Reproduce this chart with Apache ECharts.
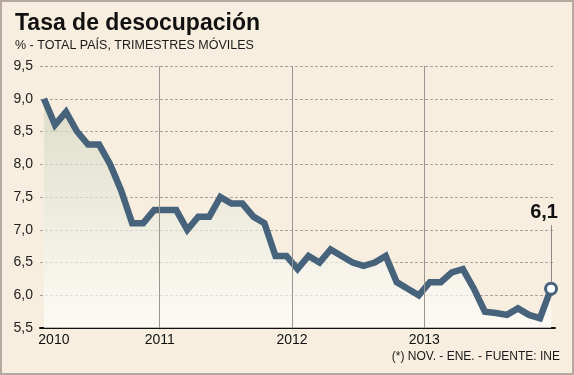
<!DOCTYPE html>
<html>
<head>
<meta charset="utf-8">
<style>
  html, body { margin: 0; padding: 0; }
  body { width: 574px; height: 375px; overflow: hidden; }
  #box { width: 574px; height: 375px; box-sizing: border-box; border: 2px solid #b6a8a1; background: #f7eedf; position: relative; }
  #chart { position: absolute; left: -2px; top: -2px; width: 574px; height: 375px; }
</style>
</head>
<body>
<div id="box"><div id="chart"></div></div>
<script src="https://cdn.jsdelivr.net/npm/echarts@6/dist/echarts.min.js"></script>
<script>
// trimestres móviles, desde ene-mar 2010 hasta nov-ene 2014
var tasa = [
  9.0, 8.6, 8.8, 8.5, 8.3, 8.3, 8.0, 7.6, 7.1, 7.1, 7.3,
  7.3, 7.3, 7.0, 7.2, 7.2, 7.5, 7.4, 7.4, 7.2, 7.1, 6.6,
  6.6, 6.4, 6.6, 6.5, 6.7, 6.6, 6.5, 6.45, 6.5, 6.6, 6.2,
  6.1, 6.0, 6.2, 6.2, 6.35, 6.4, 6.1, 5.75, 5.73, 5.7, 5.8,
  5.7, 5.65, 6.1
];
var years = ['2010', '2011', '2012', '2013'];
var yearPos = [0.9, 10.5, 22.5, 34.5];   // donde va cada año en el eje
var yearLines = [10.5, 22.5, 34.5];

var lineColor = '#46637b';
var fmt = function (v) { return v.toFixed(1).replace('.', ','); };

var pts = tasa.map(function (v, i) { return [i, v]; });
var last = pts.length - 1;
pts[last] = {
  value: [last, tasa[last]],
  symbol: 'circle',
  symbolSize: 11,
  itemStyle: { color: '#ffffff', borderColor: lineColor, borderWidth: 3 }
};

var marks = yearLines.map(function (x) {
  return { xAxis: x, lineStyle: { color: '#9a9590', width: 1, type: 'solid' }, label: { show: false } };
});
marks.push([
  { coord: [last, tasa[last] + 0.09], lineStyle: { color: '#8f8a86', width: 1, type: 'solid' } },
  { coord: [last, tasa[last] + 0.97],
    label: { show: true, position: 'end', formatter: fmt(tasa[last]), fontSize: 20, fontWeight: 'bold',
             color: '#111', fontFamily: 'Liberation Sans', offset: [-7, 2] } }
]);

var chart = echarts.init(document.getElementById('chart'));
chart.setOption({
  animation: false,
  textStyle: { fontFamily: 'Liberation Sans' },
  title: {
    text: 'Tasa de desocupación',
    subtext: '% - TOTAL PAÍS, TRIMESTRES MÓVILES',
    left: 10, top: 7, itemGap: 4,
    textStyle: { fontSize: 23, fontWeight: 'bold', color: '#111', fontFamily: 'Liberation Sans' },
    subtextStyle: { fontSize: 12.5, color: '#1a1a1a', fontFamily: 'Liberation Sans' }
  },
  graphic: [{
    type: 'text', right: 14, top: 351,
    style: { text: '(*) NOV. - ENE. - FUENTE: INE', fontSize: 12, fill: '#1a1a1a', fontFamily: 'Liberation Sans' }
  }],
  grid: { left: 40, right: 19, top: 66, bottom: 47, containLabel: false },
  xAxis: {
    type: 'value', min: -0.36, max: 46.36,
    axisLine: { show: true, lineStyle: { color: '#111', width: 2 } },
    axisTick: { show: false },
    splitLine: { show: false },
    axisLabel: {
      customValues: yearPos,
      formatter: function (v) { return years[yearPos.indexOf(v)] || ''; },
      fontSize: 14, color: '#111', margin: 5
    }
  },
  yAxis: {
    type: 'value', min: 5.5, max: 9.5, interval: 0.5,
    axisLine: { show: false }, axisTick: { show: false },
    axisLabel: { formatter: fmt, fontSize: 14, color: '#222', margin: 7 },
    splitLine: { lineStyle: { color: '#a8a39c', type: [3, 2], width: 1 } }
  },
  series: [{
    type: 'line',
    data: pts,
    symbol: 'none',
    lineStyle: { color: lineColor, width: 6.5, join: 'miter' },
    itemStyle: { color: lineColor },
    areaStyle: {
      color: new echarts.graphic.LinearGradient(0, 0, 0, 1, [
        { offset: 0, color: '#d3d5be' },
        { offset: 1, color: '#ffffff' }
      ])
    },
    markLine: { silent: true, symbol: ['none', 'none'], data: marks },
    z: 3
  }]
});
</script>
</body>
</html>
